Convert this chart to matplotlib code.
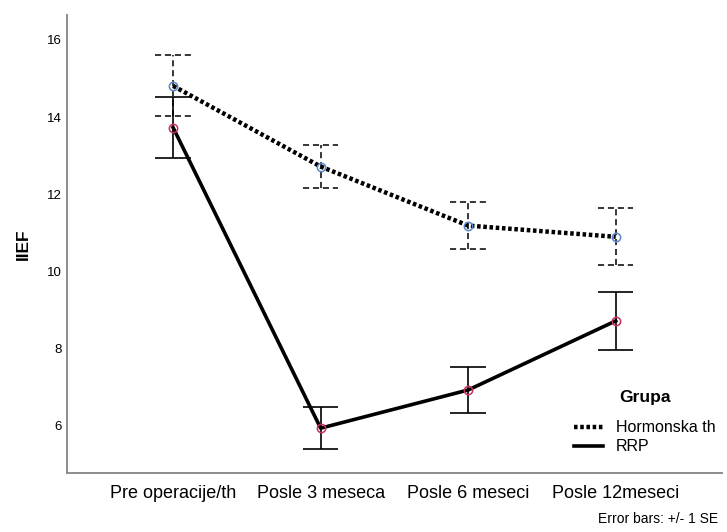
import matplotlib.pyplot as plt
import numpy as np

plt.rcParams['font.family'] = ['Liberation Sans', 'DejaVu Sans']

categories = ['Pre operacije/th', 'Posle 3 meseca', 'Posle 6 meseci', 'Posle 12meseci']
hormon_mean = [14.81, 12.72, 11.19, 10.90]
hormon_se = [0.79, 0.56, 0.61, 0.74]
rrp_mean = [13.73, 5.94, 6.93, 8.72]
rrp_se = [0.78, 0.55, 0.60, 0.75]

x = np.arange(len(categories))
cap = 0.12

fig = plt.figure(figsize=(7.27, 5.32), dpi=100)
ax = fig.add_axes([0.092, 0.111, 0.901, 0.861])

# error bars (+/- 1 SE), dashed for hormone group, solid for RRP
hm, hs = np.array(hormon_mean), np.array(hormon_se)
rm, rs = np.array(rrp_mean), np.array(rrp_se)
ax.vlines(x, hm - hs, hm + hs, colors='black', linestyles=(0, (4, 2.5)), linewidth=1.1)
ax.hlines(np.r_[hm - hs, hm + hs], np.r_[x, x] - cap, np.r_[x, x] + cap,
          colors='black', linestyles=(0, (4, 2.5)), linewidth=1.1)
ax.vlines(x, rm - rs, rm + rs, colors='black', linewidth=1.2)
ax.hlines(np.r_[rm - rs, rm + rs], np.r_[x, x] - cap, np.r_[x, x] + cap,
          colors='black', linewidth=1.2)

ax.plot(x, hormon_mean, color='black', linestyle=(0, (0.8, 0.6)), linewidth=3.2,
        label='Hormonska th')
ax.plot(x, rrp_mean, color='black', linestyle='-', linewidth=2.6, label='RRP')
ax.plot(x, hormon_mean, 'o', markersize=6, markerfacecolor='none',
        markeredgecolor='#5b86c8', markeredgewidth=1.1)
ax.plot(x, rrp_mean, 'o', markersize=6, markerfacecolor='none',
        markeredgecolor='#c8305a', markeredgewidth=1.1)

ax.set_xlim(-0.72, 3.72)
ax.set_ylim(4.78, 16.65)
ax.set_xticks(x)
ax.set_xticklabels(categories, fontsize=13)
ax.set_yticks([6, 8, 10, 12, 14, 16])
ax.tick_params(axis='y', labelsize=9.5, length=0, pad=4)
ax.tick_params(axis='x', length=0, pad=9)
ax.set_ylabel('IIEF', fontsize=12.5, fontweight='bold', labelpad=11)

for side in ['top', 'right']:
    ax.spines[side].set_visible(False)
for side in ['left', 'bottom']:
    ax.spines[side].set_color('#8c8c8c')
    ax.spines[side].set_linewidth(1.4)

leg = ax.legend(title='Grupa\n', loc='lower right', bbox_to_anchor=(1.012, 0.009),
                frameon=False, fontsize=11.5, handlelength=1.8, handletextpad=0.8,
                labelspacing=0.25, alignment='center')
leg.get_title().set_fontweight('bold')
leg.get_title().set_fontsize(12.5)
leg.get_title().set_linespacing(0.7)

fig.text(0.988, 0.012, 'Error bars: +/- 1 SE', ha='right', va='bottom', fontsize=10)

fig.savefig('out.png', dpi=100)
